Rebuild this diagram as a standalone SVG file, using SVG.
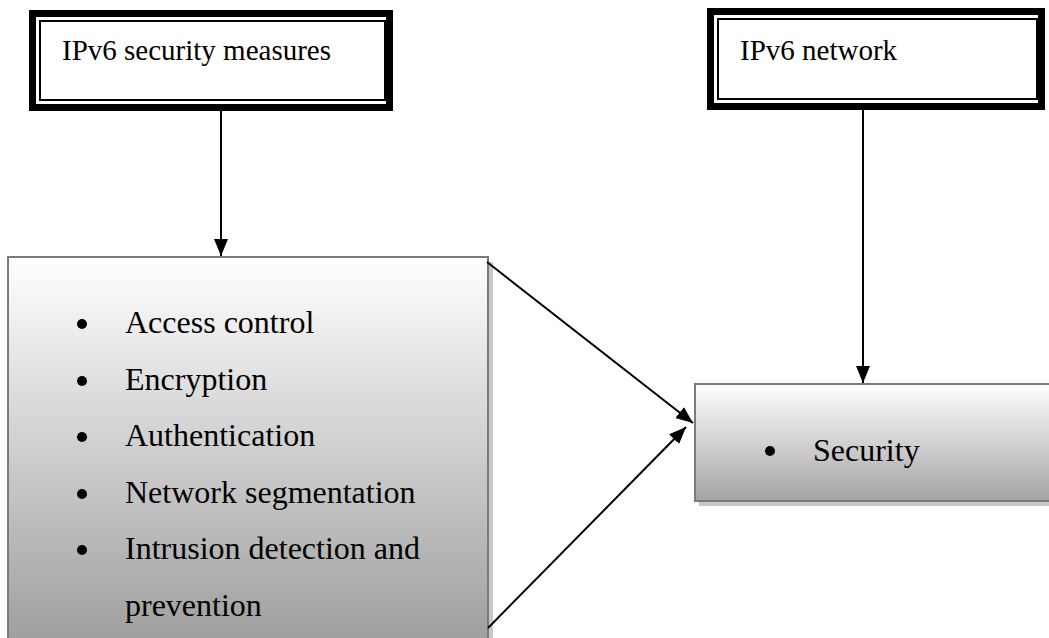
<svg xmlns="http://www.w3.org/2000/svg" width="1049" height="638" viewBox="0 0 1049 638">
<defs>
<style>
.frame{fill:#fff;stroke:#000;stroke-width:7}
.inner{fill:none;stroke:#000;stroke-width:2}
.head{font-family:"Liberation Serif","Times New Roman",serif;font-size:29px;fill:#000}
.item{font-family:"Liberation Serif","Times New Roman",serif;font-size:32px;fill:#000}
.box{stroke:#7a7a7a;stroke-width:2}
.shadow{fill:#c8c8c8}
.conn{stroke:#000;stroke-width:2;fill:none}
</style>
<linearGradient id="g1" x1="0" y1="0" x2="0" y2="1">
<stop offset="0" stop-color="#ffffff"/>
<stop offset="1" stop-color="#9c9c9c"/>
</linearGradient>
<linearGradient id="g2" x1="0" y1="0" x2="0" y2="1">
<stop offset="0" stop-color="#ffffff"/>
<stop offset="1" stop-color="#a4a4a4"/>
</linearGradient>
<marker id="arr" markerUnits="userSpaceOnUse" markerWidth="18" markerHeight="14" refX="17" refY="7" orient="auto">
<path d="M0,0 L17,7 L0,14 Z" fill="#000"/>
</marker>
</defs>

<g id="node-measures">
<rect class="frame" x="32.5" y="13.5" width="357" height="94"/>
<rect class="inner" x="40" y="21" width="345" height="79"/>
<text class="head" x="62" y="60">IPv6 security measures</text>
</g>

<g id="node-network">
<rect class="frame" x="710.5" y="11.5" width="331" height="95"/>
<rect class="inner" x="718" y="19" width="319" height="80"/>
<text class="head" x="740" y="60">IPv6 network</text>
</g>

<g id="node-list">
<rect class="shadow" x="488" y="262" width="5" height="390"/>
<rect class="box" x="8" y="257" width="480" height="395" fill="url(#g1)"/>
<circle cx="82" cy="324" r="5"/>
<text class="item" x="125" y="333">Access control</text>
<circle cx="82" cy="381" r="5"/>
<text class="item" x="125" y="390">Encryption</text>
<circle cx="82" cy="437" r="5"/>
<text class="item" x="125" y="446">Authentication</text>
<circle cx="82" cy="494" r="5"/>
<text class="item" x="125" y="503">Network segmentation</text>
<circle cx="82" cy="550" r="5"/>
<text class="item" x="125" y="559">Intrusion detection and</text>
<text class="item" x="125" y="616">prevention</text>
</g>

<g id="node-security">
<rect class="shadow" x="699" y="389" width="360" height="117"/>
<rect class="box" x="695" y="384" width="360" height="117" fill="url(#g2)"/>
<circle cx="770" cy="451" r="5"/>
<text class="item" x="813" y="461">Security</text>
</g>

<g id="connectors">
<line class="conn" x1="221" y1="111" x2="221" y2="256" marker-end="url(#arr)"/>
<line class="conn" x1="863" y1="110" x2="863" y2="383" marker-end="url(#arr)"/>
<line class="conn" x1="487" y1="262" x2="693" y2="423" marker-end="url(#arr)"/>
<line class="conn" x1="488" y1="628" x2="686" y2="427" marker-end="url(#arr)"/>
</g>
</svg>
